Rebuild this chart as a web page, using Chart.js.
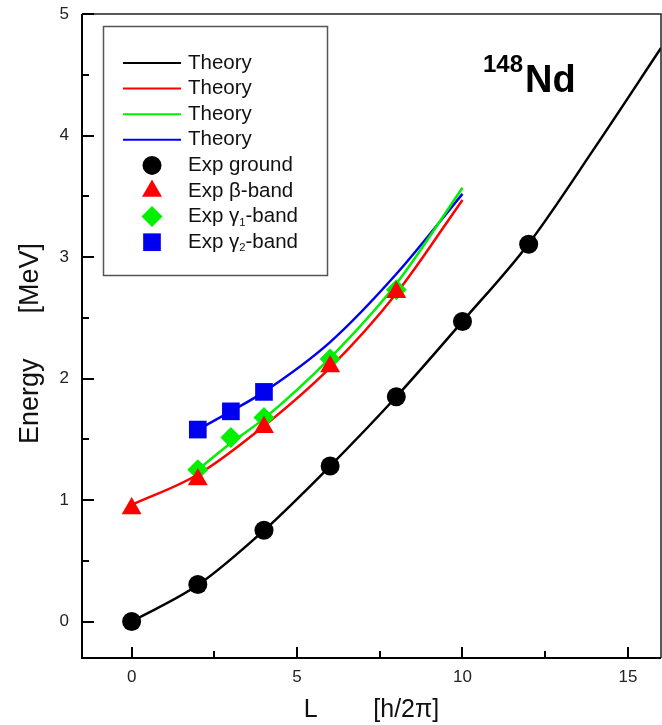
<!DOCTYPE html>
<html>
<head>
<meta charset="utf-8">
<script src="https://cdn.jsdelivr.net/npm/chart.js@4.4.1/dist/chart.umd.min.js"></script>
<style>
  body { margin: 0; background: #fff; }
  canvas { display: block; }
</style>
</head>
<body>
<canvas id="nd148" width="662" height="725"></canvas>
<script>
// Axis ticks
const xTicks = [0, 5, 10, 15];
const xMinorTicks = [2.5, 7.5, 12.5];
const yTicks = [0, 1, 2, 3, 4, 5];
const yMinorTicks = [0.5, 1.5, 2.5, 3.5, 4.5];

// Theory curves (L, energy in MeV)
const thGroundL = [0, 2, 4, 6, 8, 10, 12, 14, 16];
const thGroundE = [0, 0.30, 0.75, 1.28, 1.85, 2.47, 3.11, 3.90, 4.72];
const thBetaL = [0, 2, 4, 6, 8, 10];
const thBetaE = [0.96, 1.21, 1.61, 2.09, 2.70, 3.47];
const thGamma1L = [2, 3, 4, 6, 8, 10];
const thGamma1E = [1.25, 1.47, 1.67, 2.17, 2.78, 3.57];
const thGamma2L = [2, 3, 4, 6, 8, 10];
const thGamma2E = [1.58, 1.73, 1.89, 2.30, 2.86, 3.52];

// Experimental levels
const expGroundL = [0, 2, 4, 6, 8, 10, 12];
const expGroundE = [0, 0.305, 0.752, 1.28, 1.85, 2.47, 3.105];
const expBetaL = [0, 2, 4, 6, 8];
const expBetaE = [0.93, 1.17, 1.60, 2.10, 2.71];
const expGamma1L = [2, 3, 4, 6, 8];
const expGamma1E = [1.25, 1.515, 1.68, 2.16, 2.73];
const expGamma2L = [2, 3, 4];
const expGamma2E = [1.58, 1.73, 1.89];

const FONT = '"Liberation Sans", Arial, Helvetica, sans-serif';
const RED = '#ff0000', GREEN = '#00f000', BLUE = '#0000f0';

function pts(xs, ys) {
    return xs.map((x, i) => ({ x: x, y: ys[i] }));
}

function theory(label, xs, ys, color, width) {
    return {
        label: label, data: pts(xs, ys), showLine: true,
        borderColor: color, borderWidth: width, pointRadius: 0,
        cubicInterpolationMode: 'monotone', order: 2, kind: 'line'
    };
}

function exp(label, xs, ys, color, style, radius) {
    return {
        label: label, data: pts(xs, ys), showLine: false,
        pointStyle: style, pointRadius: radius, pointBackgroundColor: color,
        pointBorderColor: color, pointBorderWidth: 0, order: 1, kind: 'point'
    };
}

// text with "_n" subscripts, e.g. "Exp γ_1-band"
function drawRich(ctx, text, x, y, size) {
    const parts = text.split(/_(\d)/);
    parts.forEach((p, i) => {
        if (i % 2 === 1) {
            ctx.font = (size * 0.55) + 'px ' + FONT;
            ctx.fillText(p, x, y + size * 0.3);
        } else {
            ctx.font = size + 'px ' + FONT;
            ctx.fillText(p, x, y);
        }
        x += ctx.measureText(p).width;
    });
}

// boxed legend inside the plot
const boxLegend = {
    id: 'boxLegend',
    afterDraw(chart) {
        const ctx = chart.ctx;
        ctx.save();
        ctx.strokeStyle = '#555';
        ctx.lineWidth = 1.5;
        ctx.strokeRect(103.5, 26.5, 224, 249);
        ctx.textBaseline = 'middle';
        chart.data.datasets.forEach((ds, i) => {
            const y = 63 + i * 25.6;
            if (ds.kind === 'line') {
                ctx.strokeStyle = ds.borderColor;
                ctx.lineWidth = 2;
                ctx.beginPath();
                ctx.moveTo(123, y);
                ctx.lineTo(181, y);
                ctx.stroke();
            } else {
                ctx.fillStyle = ds.pointBackgroundColor;
                ctx.strokeStyle = ds.pointBackgroundColor;
                Chart.helpers.drawPoint(ctx, {
                    pointStyle: ds.pointStyle, radius: ds.pointRadius, borderWidth: 0
                }, 152, y);
            }
            ctx.fillStyle = '#111';
            drawRich(ctx, ds.label, 188, y, 20.5);
        });
        ctx.restore();
    }
};

// frame, inward ticks, x tick labels and the nucleus label
const frameTicks = {
    id: 'frameTicks',
    afterDraw(chart) {
        const ctx = chart.ctx;
        const a = chart.chartArea;
        const xs = chart.scales.x, ys = chart.scales.y;
        ctx.save();
        ctx.strokeStyle = '#222';
        ctx.lineWidth = 1.5;
        ctx.beginPath();
        ctx.moveTo(a.left, a.top);
        ctx.lineTo(a.right, a.top);
        ctx.lineTo(a.right, a.bottom);
        ctx.stroke();
        ctx.strokeStyle = '#000';
        ctx.lineWidth = 2;
        ctx.beginPath();
        ctx.moveTo(a.left, a.top);
        ctx.lineTo(a.left, a.bottom);
        ctx.lineTo(a.right, a.bottom);
        ctx.stroke();
        ctx.beginPath();
        xTicks.concat(xMinorTicks).forEach(v => {
            const px = Math.round(xs.getPixelForValue(v));
            const len = xTicks.includes(v) ? 11 : 7;
            ctx.moveTo(px, a.bottom);
            ctx.lineTo(px, a.bottom - len);
        });
        yTicks.concat(yMinorTicks).forEach(v => {
            const py = Math.round(ys.getPixelForValue(v));
            const len = yTicks.includes(v) ? 12 : 7;
            ctx.moveTo(a.left, py);
            ctx.lineTo(a.left + len, py);
        });
        ctx.stroke();

        ctx.fillStyle = '#222';
        ctx.font = '17px ' + FONT;
        ctx.textAlign = 'center';
        ctx.textBaseline = 'middle';
        xTicks.forEach(v => {
            ctx.fillText(String(v), xs.getPixelForValue(v), a.bottom + 19);
        });

        ctx.fillStyle = '#000';
        ctx.textAlign = 'left';
        ctx.textBaseline = 'alphabetic';
        ctx.font = 'bold 24px ' + FONT;
        ctx.fillText('148', 483, 72);
        ctx.font = 'bold 38px ' + FONT;
        ctx.fillText('Nd', 525, 92);
        ctx.restore();
    }
};

new Chart(document.getElementById('nd148'), {
    type: 'scatter',
    data: {
        datasets: [
            theory('Theory', thGroundL, thGroundE, '#000000', 2.5),
            theory('Theory', thBetaL, thBetaE, RED, 2.5),
            theory('Theory', thGamma1L, thGamma1E, GREEN, 2.5),
            theory('Theory', thGamma2L, thGamma2E, BLUE, 2.5),
            exp('Exp ground', expGroundL, expGroundE, '#000000', 'circle', 9.5),
            exp('Exp β-band', expBetaL, expBetaE, RED, 'triangle', 11.5),
            exp('Exp γ_1-band', expGamma1L, expGamma1E, GREEN, 'rectRot', 10.5),
            exp('Exp γ_2-band', expGamma2L, expGamma2E, BLUE, 'rect', 12.5)
        ]
    },
    options: {
        responsive: false,
        maintainAspectRatio: false,
        animation: false,
        layout: { autoPadding: false, padding: { top: 14, right: 1, left: 0, bottom: 0 } },
        plugins: { legend: { display: false }, tooltip: { enabled: false } },
        scales: {
            x: {
                type: 'linear', min: -1.5, max: 16,
                grid: { display: false, drawTicks: false },
                border: { display: false },
                afterBuildTicks: s => { s.ticks = xTicks.map(v => ({ value: v })); },
                afterFit: s => { s.height = 67; },
                ticks: { display: false },
                title: {
                    display: true, text: 'L        [h/2π]', color: '#111',
                    font: { family: FONT, size: 25 }, padding: { top: 0, bottom: 0 }
                }
            },
            y: {
                type: 'linear', min: -0.3, max: 5,
                grid: { display: false, drawTicks: false },
                border: { display: false },
                afterBuildTicks: s => { s.ticks = yTicks.map(v => ({ value: v })); },
                afterFit: s => { s.width = 82; s.paddingTop = 0; s.paddingBottom = 0; },
                ticks: { padding: 13, color: '#222', font: { family: FONT, size: 17 } },
                title: {
                    display: true, text: 'Energy      [MeV]  ', color: '#111',
                    font: { family: FONT, size: 27 }, padding: { top: 14, bottom: 0 }
                }
            }
        }
    },
    plugins: [frameTicks, boxLegend]
});
</script>
</body>
</html>
